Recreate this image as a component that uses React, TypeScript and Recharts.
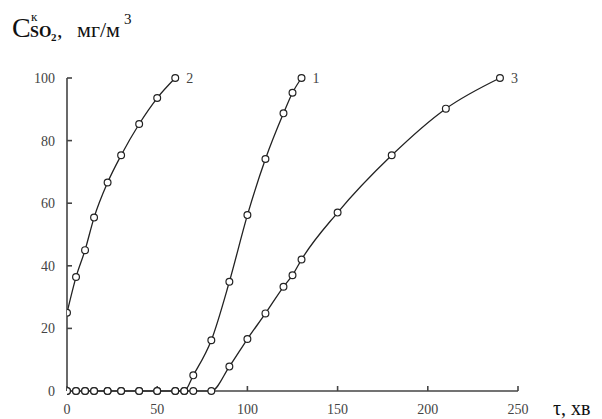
import React from 'react';
import { LineChart, Line, XAxis, YAxis, LabelList } from 'recharts';

const curve1X = [0, 5, 10, 15, 22.5, 30, 40, 50, 60, 65, 70, 80, 90, 100, 110, 120, 125, 130];
const curve1Y = [0, 0, 0, 0, 0, 0, 0, 0, 0, 0, 5, 16.2, 34.9, 56.2, 74.1, 88.7, 95.3, 100];

const curve2X = [0, 5, 10, 15, 22.5, 30, 40, 50, 60];
const curve2Y = [25, 36.4, 45, 55.4, 66.6, 75.3, 85.3, 93.6, 100];

const curve3X = [0, 5, 10, 15, 22.5, 30, 40, 50, 60, 65, 70, 80, 90, 100, 110, 120, 125, 130, 150, 180, 210, 240];
const curve3Y = [0, 0, 0, 0, 0, 0, 0, 0, 0, 0, 0, 0, 7.8, 16.6, 24.8, 33.3, 37, 42, 57, 75.3, 90.2, 100];

const xTicks = [0, 50, 100, 150, 200, 250];
const yTicks = [0, 20, 40, 60, 80, 100];
const seriesNames = ['1', '2', '3'];

const toRows = (xs: number[], ys: number[]) => xs.map((x, i) => ({ x, y: ys[i] }));

const series = [
  { name: seriesNames[0], data: toRows(curve1X, curve1Y) },
  { name: seriesNames[1], data: toRows(curve2X, curve2Y) },
  { name: seriesNames[2], data: toRows(curve3X, curve3Y) },
];

const FONT = '"Liberation Serif", "Times New Roman", serif';

const makeEndLabel = (name: string, lastIndex: number) => (props: any) => {
  const { x, y, index } = props;
  if (index !== lastIndex) return null;
  return (
    <text x={x + 11} y={y + 5} fontFamily={FONT} fontSize={14} fill="#444">
      {name}
    </text>
  );
};

export default function App() {
  return (
    <div style={{ position: 'absolute', left: 0, top: 0, width: 602, height: 419, background: '#fff' }}>
      <LineChart width={602} height={419} margin={{ top: 78, right: 84, bottom: 0, left: 0 }}>
        <XAxis
          type="number"
          dataKey="x"
          domain={[0, 250]}
          ticks={xTicks}
          allowDataOverflow
          height={28}
          tickSize={-5}
          tickMargin={18}
          axisLine={{ stroke: '#444', strokeWidth: 1.6 }}
          tickLine={{ stroke: '#444', strokeWidth: 1.6 }}
          tick={{ fontFamily: FONT, fontSize: 14, fill: '#444' }}
        />
        <YAxis
          type="number"
          dataKey="y"
          domain={[0, 100]}
          ticks={yTicks}
          width={67}
          tickSize={-5}
          tickMargin={17}
          axisLine={{ stroke: '#444', strokeWidth: 1.6 }}
          tickLine={{ stroke: '#444', strokeWidth: 1.6 }}
          tick={{ fontFamily: FONT, fontSize: 14, fill: '#444' }}
        />
        {series.map((s) => (
          <Line
            key={s.name}
            data={s.data}
            dataKey="y"
            type="monotone"
            stroke="#222"
            strokeWidth={1.3}
            dot={{ r: 3.4, fill: '#fff', stroke: '#222', strokeWidth: 1.2 }}
            isAnimationActive={false}
          >
            <LabelList dataKey="y" content={makeEndLabel(s.name, s.data.length - 1)} />
          </Line>
        ))}
      </LineChart>
      <svg
        width={602}
        height={419}
        style={{ position: 'absolute', left: 0, top: 0, pointerEvents: 'none' }}
        fontFamily={FONT}
        fill="#111"
      >
        <text x={12} y={37} fontSize={28}>C</text>
        <text x={31} y={21} fontSize={13}>к</text>
        <text x={30} y={37} fontSize={16} fontWeight="bold">SO</text>
        <text x={51} y={41} fontSize={11} fontWeight="bold">2</text>
        <text x={57} y={37} fontSize={22}>,</text>
        <text x={77} y={37} fontSize={22}>мг/м</text>
        <text x={124} y={24} fontSize={15}>3</text>
        <text x={553} y={415} fontSize={20}>τ, хв</text>
      </svg>
    </div>
  );
}
